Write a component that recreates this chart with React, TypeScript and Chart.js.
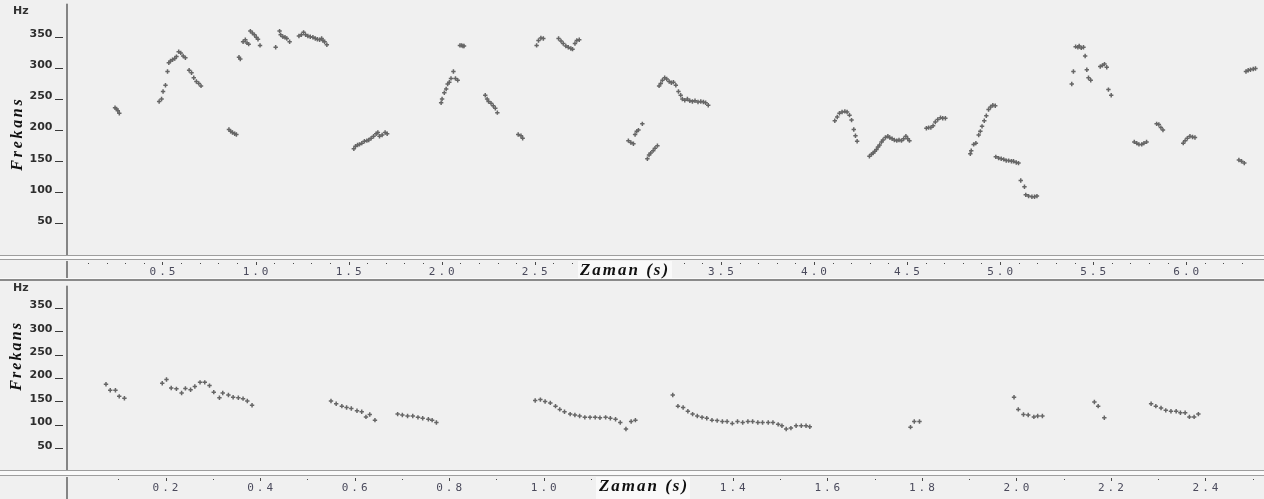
import React, { useEffect, useRef } from "react";
import { Chart, registerables } from "chart.js";

Chart.register(...registerables);

const W = 1264;

// Axis tick values
const yTickValues = [50, 100, 150, 200, 250, 300, 350];
const topXTicks = [0.5, 1.0, 1.5, 2.0, 2.5, 3.5, 4.0, 4.5, 5.0, 5.5, 6.0];
const bottomXTicks = [0.2, 0.4, 0.6, 0.8, 1.0, 1.4, 1.6, 1.8, 2.0, 2.2, 2.4];

// Top panel pitch points (seconds, Hz)
const topTimes = [
  0.245, 0.253, 0.26, 0.268,
  0.482, 0.495, 0.503, 0.516, 0.527, 0.534, 0.543, 0.554, 0.566, 0.575, 0.587, 0.598, 0.611, 0.623, 0.643, 0.656, 0.668, 0.682, 0.695, 0.707,
  0.857, 0.866, 0.876, 0.888, 0.897,
  0.911, 0.918,
  0.933, 0.945, 0.954, 0.963,
  0.972, 0.983, 0.994, 1.004, 1.013, 1.024,
  1.108,
  1.129, 1.135, 1.147, 1.158, 1.168, 1.183,
  1.233, 1.246, 1.258, 1.269, 1.281, 1.294, 1.308, 1.321, 1.332, 1.344, 1.355, 1.362, 1.371, 1.383,
  1.528, 1.537, 1.548, 1.558, 1.571, 1.585, 1.598, 1.608, 1.621, 1.634, 1.648, 1.657, 1.666, 1.68, 1.696, 1.707,
  1.997, 2.002, 2.014, 2.024, 2.032, 2.041, 2.05, 2.063, 2.074, 2.086,
  2.098, 2.106, 2.114, 2.12,
  2.234, 2.244, 2.252, 2.265, 2.277, 2.288, 2.299,
  2.411, 2.426, 2.435,
  2.51, 2.52, 2.533, 2.546,
  2.628, 2.641, 2.653, 2.667, 2.68, 2.694, 2.703, 2.716, 2.726, 2.739,
  3.003, 3.016, 3.03, 3.039, 3.048, 3.057, 3.078,
  3.105, 3.114, 3.123, 3.136, 3.146, 3.159,
  3.168, 3.177, 3.186, 3.198, 3.209, 3.222, 3.234, 3.245, 3.258, 3.272, 3.284, 3.293, 3.306, 3.32, 3.333, 3.347, 3.361, 3.377, 3.392, 3.406, 3.418, 3.432,
  4.112, 4.125, 4.137, 4.151, 4.166, 4.178, 4.191, 4.202, 4.214, 4.223, 4.232,
  4.298, 4.309, 4.318, 4.327, 4.336, 4.344, 4.353, 4.363, 4.371, 4.384, 4.397, 4.407, 4.42, 4.432, 4.445, 4.457, 4.47, 4.482, 4.494, 4.504, 4.513,
  4.604, 4.616, 4.628, 4.64, 4.652, 4.665, 4.68, 4.692, 4.706,
  4.84, 4.845, 4.858, 4.87, 4.885, 4.894, 4.903, 4.915, 4.926, 4.938, 4.949, 4.961, 4.974,
  4.977, 4.992, 5.006, 5.019, 5.033, 5.046, 5.061, 5.072, 5.087, 5.099, 5.111, 5.131, 5.138, 5.153, 5.171, 5.185, 5.198,
  5.385, 5.394, 5.406, 5.418, 5.425, 5.436, 5.448, 5.457, 5.466, 5.475, 5.487,
  5.538, 5.55, 5.561, 5.573, 5.582, 5.597,
  5.721, 5.734, 5.746, 5.761, 5.773, 5.787,
  5.841, 5.853, 5.864, 5.875,
  5.984, 5.994, 6.006, 6.02, 6.034, 6.047,
  6.283, 6.297, 6.312,
  6.321, 6.333, 6.345, 6.36, 6.372,
];
const topFreqs = [
  236, 234, 231, 227,
  246, 250, 262, 272, 294, 308, 311, 313, 315, 318, 326, 324, 319, 316, 296, 292, 284, 278, 275, 271,
  201, 198, 196, 194, 193,
  317, 314,
  342, 345, 340, 338,
  359, 356, 353, 349, 346, 336,
  333,
  359, 353, 350, 349, 347, 342,
  351, 353, 357, 353, 351, 350, 349, 347, 346, 345, 347, 344, 342, 337,
  170, 174, 176, 177, 179, 182, 183, 184, 187, 190, 194, 196, 190, 192, 196, 194,
  244, 250, 260, 266, 274, 277, 283, 294, 283, 280,
  336, 336, 335, 335,
  256, 250, 246, 243, 239, 235, 228,
  193, 191, 187,
  336, 344, 348, 347,
  347, 343, 339, 335, 333, 331, 330, 339, 344, 345,
  183, 180, 178, 193, 198, 200, 210,
  154, 160, 163, 167, 171, 175,
  271, 275, 280, 284, 282, 278, 276, 277, 272, 262, 256, 250, 248, 250, 247, 246, 247, 245, 246, 245, 244, 240,
  215, 221, 227, 229, 230, 229, 224, 216, 201, 191, 182,
  158, 161, 163, 166, 169, 173, 176, 181, 184, 188, 190, 188, 186, 184, 183, 184, 183, 186, 190, 186, 183,
  203, 204, 204, 207, 213, 217, 220, 219, 219,
  162, 167, 177, 179, 192, 198, 206, 215, 223, 233, 237, 240, 239,
  157, 155, 154, 153, 151, 151, 150, 150, 148, 147, 119, 109, 96, 94, 93, 93, 94,
  274, 294, 334, 333, 335, 332, 333, 319, 297, 284, 280,
  302, 304, 306, 301, 265, 256,
  181, 179, 177, 177, 179, 181,
  210, 209, 204, 200,
  179, 183, 187, 190, 189, 188,
  152, 150, 147,
  294, 296, 297, 298, 299,
];

// Bottom panel pitch points (seconds, Hz)
const bottomTimes = [
  0.074, 0.083, 0.094, 0.102, 0.113,
  0.193, 0.202, 0.212, 0.223, 0.234, 0.242, 0.253, 0.262, 0.273, 0.283, 0.293, 0.302, 0.314, 0.321, 0.333, 0.343, 0.354, 0.364, 0.373, 0.383,
  0.55, 0.561, 0.573, 0.583, 0.593, 0.605, 0.615, 0.624, 0.632, 0.643,
  0.691, 0.701, 0.712, 0.723, 0.734, 0.744, 0.756, 0.764, 0.773,
  0.982, 0.993, 1.003, 1.014, 1.025, 1.034, 1.044, 1.056, 1.066, 1.076, 1.087, 1.098, 1.109, 1.119, 1.131, 1.141, 1.152, 1.162, 1.174, 1.185, 1.194,
  1.273, 1.284, 1.295, 1.305, 1.315, 1.325, 1.335, 1.345, 1.356, 1.367, 1.378, 1.388, 1.399, 1.41, 1.421, 1.432, 1.442, 1.453, 1.463, 1.475, 1.485, 1.496, 1.504, 1.513, 1.523, 1.534, 1.545, 1.555, 1.563,
  1.776, 1.784, 1.795,
  1.995, 2.004, 2.015, 2.025, 2.037, 2.045, 2.055,
  2.165, 2.173, 2.186,
  2.285, 2.295, 2.306, 2.316, 2.327, 2.338, 2.347, 2.357, 2.366, 2.376, 2.385,
];
const bottomFreqs = [
  187, 174, 174, 161, 157,
  189, 197, 179, 177, 168, 178, 175, 182, 191, 191, 184, 170, 158, 168, 164, 159, 158, 156, 151, 142,
  151, 145, 140, 137, 135, 130, 128, 117, 122, 110,
  123, 121, 119, 119, 116, 114, 112, 110, 105,
  152, 154, 150, 147, 140, 133, 128, 123, 121, 119, 116, 116, 116, 115, 116, 114, 112, 105, 91, 107, 110,
  164, 140, 137, 129, 123, 119, 116, 114, 110, 109, 107, 107, 103, 107, 105, 107, 107, 105, 105, 105, 105, 101, 98, 91, 93, 98, 98, 98, 96,
  95, 107, 107,
  159, 133, 122, 121, 117, 119, 119,
  149, 140, 115,
  145, 140, 136, 131, 129, 129, 126, 126, 117, 117, 123,
];

interface Panel {
  height: number;
  areaTop: number;
  areaBottom: number;
  xMin: number;
  xMax: number;
  yMax: number;
  majorStep: number;
  xTicks: number[];
  times: number[];
  freqs: number[];
  line1: number;
  line2: number;
  thickY: number | null;
  dotY: number;
  labelY: number;
  stripTop: number;
  stripBottom: number;
  zamanX: number;
  zamanY: number;
  zamanBox: [number, number, number, number];
  hzY: number;
  frekansX: number;
  frekansY: number;
  frekansSpacing: number;
}

const topPanel: Panel = {
  height: 282,
  areaTop: 2,
  areaBottom: 254.6,
  xMin: -0.005,
  xMax: 6.398,
  yMax: 403,
  majorStep: 0.5,
  xTicks: topXTicks,
  times: topTimes,
  freqs: topFreqs,
  line1: 255,
  line2: 259,
  thickY: 279,
  dotY: 263,
  labelY: 272,
  stripTop: 261,
  stripBottom: 278,
  zamanX: 624,
  zamanY: 270.5,
  zamanBox: [578, 261, 94, 17],
  hzY: 11,
  frekansX: 17.5,
  frekansY: 135,
  frekansSpacing: 2.7,
};

const bottomPanel: Panel = {
  height: 217,
  areaTop: 0,
  areaBottom: 189.5,
  xMin: -0.0053,
  xMax: 2.516,
  yMax: 398,
  majorStep: 0.2,
  xTicks: bottomXTicks,
  times: bottomTimes,
  freqs: bottomFreqs,
  line1: 188,
  line2: 193,
  thickY: null,
  dotY: 197,
  labelY: 206,
  stripTop: 195,
  stripBottom: 217,
  zamanX: 643,
  zamanY: 205,
  zamanBox: [596, 195, 94, 22],
  hzY: 6,
  frekansX: 16.5,
  frekansY: 75,
  frekansSpacing: 2.1,
};

function buildChart(canvas: HTMLCanvasElement, p: Panel) {
  const data = p.times.map((t, i) => ({ x: t, y: p.freqs[i] }));
  const decor = {
    id: "praatDecor",
    afterDraw(chart: any) {
      const ctx: CanvasRenderingContext2D = chart.ctx;
      const a = chart.chartArea;
      const xs = chart.scales.x;
      const ys = chart.scales.y;
      ctx.save();
      // separator double line
      ctx.fillStyle = "#fafafa";
      ctx.fillRect(0, p.line1, W, p.line2 - p.line1);
      ctx.fillStyle = "#9e9e9e";
      ctx.fillRect(0, p.line1, W, 1);
      ctx.fillRect(0, p.line2, W, 1);
      if (p.thickY !== null) {
        ctx.fillStyle = "#fafafa";
        ctx.fillRect(0, p.thickY - 1, W, 1);
        ctx.fillStyle = "#8a8a8a";
        ctx.fillRect(0, p.thickY, W, 2);
      }
      // vertical axis line
      ctx.fillStyle = "#858585";
      ctx.fillRect(66, a.top, 2, p.line1 - a.top);
      ctx.fillRect(66, p.stripTop, 2, p.stripBottom - p.stripTop);
      // y tick dashes
      ctx.fillStyle = "#3a3a3a";
      for (const v of yTickValues) {
        const y = Math.round(ys.getPixelForValue(v));
        ctx.fillRect(55, y, 8, 1);
      }
      // x tick dots
      ctx.fillStyle = "#4a4a4a";
      for (let i = 1; i * 0.1 <= xs.max; i++) {
        const v = i * 0.1;
        const x = Math.round(xs.getPixelForValue(v));
        const r = v / p.majorStep;
        if (Math.abs(r - Math.round(r)) < 1e-6) ctx.fillRect(x, p.dotY - 1, 1, 3);
        else ctx.fillRect(x, p.dotY, 1, 1);
      }
      // x tick labels
      ctx.font = '11px "DejaVu Sans Mono"';
      (ctx as any).letterSpacing = "3px";
      ctx.textAlign = "center";
      ctx.textBaseline = "middle";
      ctx.fillStyle = "#4a4a5c";
      for (const v of p.xTicks) {
        ctx.fillText(v.toFixed(1), xs.getPixelForValue(v) + 1.5, p.labelY);
      }
      // axis title box
      const [bx, by, bw, bh] = p.zamanBox;
      ctx.fillStyle = "#f9f9f9";
      ctx.fillRect(bx, by, bw, bh);
      ctx.fillStyle = "#111";
      ctx.font = 'italic bold 17px "Liberation Serif"';
      (ctx as any).letterSpacing = "2px";
      ctx.fillText("Zaman (s)", p.zamanX + 1, p.zamanY);
      // Hz unit
      (ctx as any).letterSpacing = "0px";
      ctx.font = 'bold 11px "DejaVu Sans"';
      ctx.textAlign = "left";
      ctx.fillStyle = "#333";
      ctx.fillText("Hz", 13, p.hzY);
      // Frekans
      ctx.translate(p.frekansX, p.frekansY);
      ctx.rotate(-Math.PI / 2);
      ctx.textAlign = "center";
      ctx.fillStyle = "#111";
      ctx.font = 'italic bold 16px "Liberation Serif"';
      (ctx as any).letterSpacing = p.frekansSpacing + "px";
      ctx.fillText("Frekans", p.frekansSpacing / 2, 0);
      ctx.restore();
    },
  };

  return new Chart(canvas, {
    type: "scatter",
    data: {
      datasets: [
        {
          data,
          pointStyle: "cross",
          pointRadius: 2.2,
          pointHoverRadius: 2.2,
          pointBorderWidth: 1.5,
          borderColor: "#666666",
          backgroundColor: "#666666",
        } as any,
      ],
    },
    options: {
      animation: false,
      responsive: false,
      devicePixelRatio: 1,
      events: [],
      layout: { padding: { top: p.areaTop, right: 2, left: 0, bottom: 0 } },
      plugins: { legend: { display: false }, tooltip: { enabled: false } },
      scales: {
        x: {
          type: "linear",
          min: p.xMin,
          max: p.xMax,
          ticks: { display: false },
          grid: { display: false, drawTicks: false },
          border: { display: false },
          afterFit: (s: any) => {
            s.height = p.height - p.areaBottom;
            s.paddingLeft = 0;
            s.paddingRight = 0;
          },
        },
        y: {
          type: "linear",
          min: 0,
          max: p.yMax,
          afterBuildTicks: (s: any) => {
            s.ticks = yTickValues.map((v) => ({ value: v }));
          },
          afterFit: (s: any) => {
            s.width = 68.5;
            s.paddingTop = 0;
            s.paddingBottom = 0;
          },
          grid: { display: false, drawTicks: false, tickLength: 0 },
          border: { display: false },
          ticks: {
            autoSkip: false,
            padding: 16,
            labelOffset: -2.5,
            color: "#2e2e2e",
            font: { family: "DejaVu Sans", size: 11, weight: "bold" },
          },
        },
      },
    },
    plugins: [decor],
  } as any);
}

function PanelCanvas({ panel }: { panel: Panel }) {
  const ref = useRef<HTMLCanvasElement | null>(null);
  useEffect(() => {
    if (!ref.current) return;
    const chart = buildChart(ref.current, panel);
    return () => chart.destroy();
  }, [panel]);
  return <canvas ref={ref} width={W} height={panel.height} style={{ display: "block", width: W, height: panel.height }} />;
}

export default function App() {
  return (
    <div style={{ position: "fixed", left: 0, top: 0, width: W, height: 499, background: "#f0f0f0", overflow: "hidden" }}>
      <PanelCanvas panel={topPanel} />
      <PanelCanvas panel={bottomPanel} />
    </div>
  );
}
